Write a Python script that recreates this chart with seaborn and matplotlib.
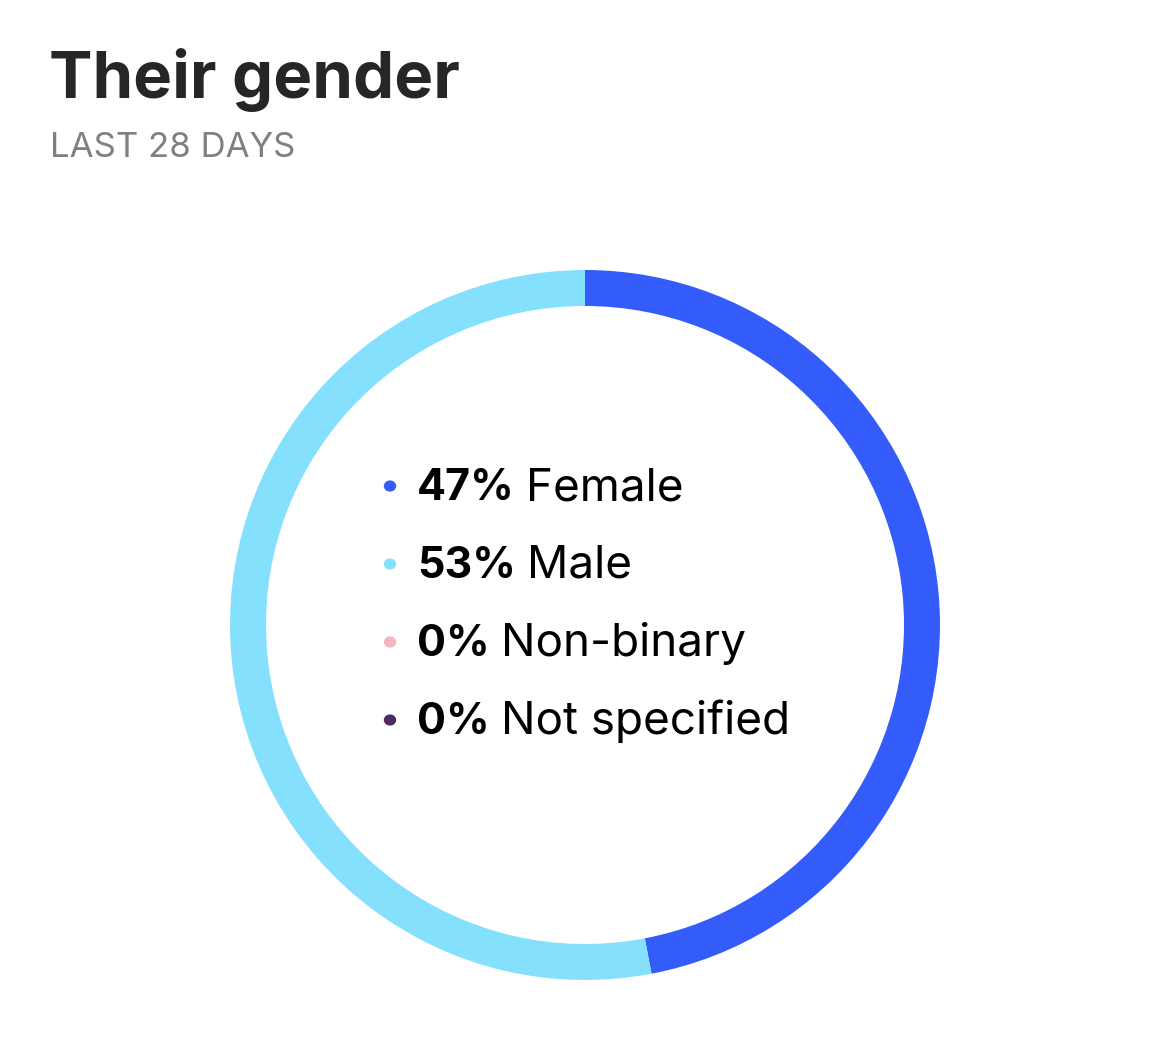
import matplotlib
matplotlib.use("Agg")
import matplotlib.pyplot as plt
import seaborn as sns

# --------------------------------------------------
# Data
# --------------------------------------------------
categories = ["Female", "Male", "Non-binary", "Not specified"]
shares = [47, 53, 0, 0]
colors = ["#335CFA", "#85E0FE", "#F5B5C0", "#4E2A5E"]

title = "Their gender"
subtitle = "LAST 28 DAYS"

# --------------------------------------------------
# Figure
# --------------------------------------------------
sns.set_theme(style="white")
plt.rcParams["font.family"] = ["Inter", "DejaVu Sans"]

W, H = 1170, 1041
fig = plt.figure(figsize=(W / 100, H / 100), dpi=100)
fig.patch.set_facecolor("white")

# donut axes: centre (585, 625), radius 355 px
cx, cy, r = 585, 625, 355
ax = fig.add_axes([(cx - r) / W, (H - cy - r) / H, 2 * r / W, 2 * r / H])
ax.pie(
    shares,
    colors=colors,
    startangle=90,
    counterclock=False,
    radius=1,
    wedgeprops=dict(width=36 / r, edgecolor="none", linewidth=0),
)
ax.set_xlim(-1, 1)
ax.set_ylim(-1, 1)
ax.set_aspect("equal")
ax.axis("off")

# titles
fig.text(49 / W, 1 - 98 / H, title, fontsize=47, fontweight="bold",
         color="#262626", va="baseline", ha="left")
fig.text(50 / W, 1 - 157 / H, subtitle, fontsize=25, color="#808080",
         va="baseline", ha="left")

# centre legend
fig.canvas.draw()
renderer = fig.canvas.get_renderer()
row0, step = 500, 78
for i, (cat, val, col) in enumerate(zip(categories, shares, colors)):
    base = row0 + i * step
    ax_y = 1 - base / H
    fig.patches.append(plt.Circle((390 / W, 1 - (base - 14) / H), 5.5 / W,
                                  transform=fig.transFigure, color=col,
                                  figure=fig))
    t = fig.text(417 / W, ax_y, f"{val}%", fontsize=31, fontweight="bold",
                 color="black", va="baseline", ha="left")
    ext = t.get_window_extent(renderer)
    fig.text((ext.x1 + 11) / W, ax_y, cat, fontsize=33, color="black",
             va="baseline", ha="left")

fig.savefig("out.png", dpi=100, facecolor="white")
